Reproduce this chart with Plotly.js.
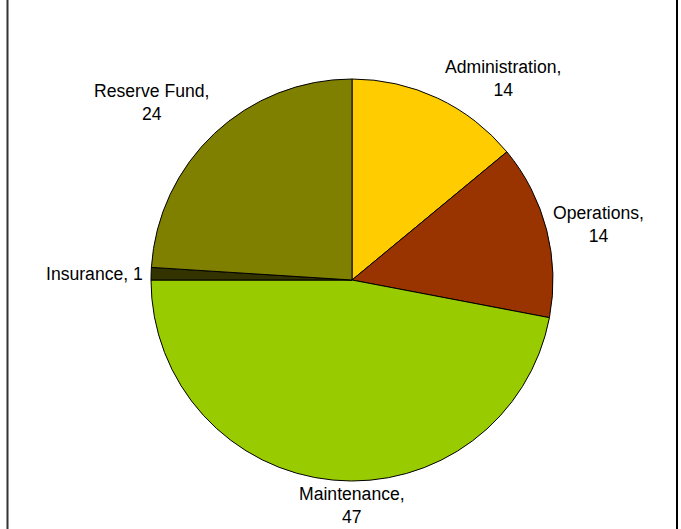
<!DOCTYPE html>
<html>
<head>
<meta charset="utf-8">
<script src="https://cdn.plot.ly/plotly-3.0.1.min.js"></script>
<style>
html,body{margin:0;padding:0;background:#fff;}
#chart{width:681px;height:529px;}
</style>
</head>
<body>
<div id="chart"></div>
<script>
// Data
const categories = ["Administration", "Operations", "Maintenance", "Insurance", "Reserve Fund"];
const values = [14, 14, 47, 1, 24];
const colors = ["#FFCC00", "#993300", "#99CC00", "#333300", "#808000"];

// Label layout (pixel positions of label centers, and line breaks)
const W = 681, H = 529;
const labelPos = [
  {x: 503, y: 79, br: true},
  {x: 598, y: 224, br: true},
  {x: 352, y: 505, br: true},
  {x: 94, y: 274, br: false},
  {x: 151, y: 103, br: true}
];

const cx = 352, cy = 280, r = 201;

const annotations = categories.map((c, i) => ({
  text: c + "," + (labelPos[i].br ? "<br>" : " ") + values[i],
  x: labelPos[i].x / W,
  y: 1 - labelPos[i].y / H,
  xref: "paper", yref: "paper",
  xanchor: "center", yanchor: "middle",
  showarrow: false,
  align: "center",
  font: {family: "Liberation Sans, Arial, sans-serif", size: 17.6, color: "#000"}
}));

const trace = {
  type: "pie",
  labels: categories,
  values: values,
  sort: false,
  direction: "clockwise",
  rotation: 0,
  textinfo: "none",
  hoverinfo: "label+value",
  marker: {colors: colors, line: {color: "#000", width: 1}},
  domain: {
    x: [(cx - r) / W, (cx + r) / W],
    y: [1 - (cy + r) / H, 1 - (cy - r) / H]
  },
  showlegend: false
};

const layout = {
  width: W, height: H,
  margin: {l: 0, r: 0, t: 0, b: 0},
  paper_bgcolor: "#fff",
  showlegend: false,
  annotations: annotations,
  shapes: [
    {type: "line", xref: "paper", yref: "paper", x0: 7.5 / W, x1: 7.5 / W, y0: -0.05, y1: 1.05, line: {color: "#333", width: 2}},
    {type: "line", xref: "paper", yref: "paper", x0: 677 / W, x1: 677 / W, y0: -0.05, y1: 1.05, line: {color: "#000", width: 2}}
  ]
};

Plotly.newPlot("chart", [trace], layout, {displayModeBar: false, staticPlot: true});
</script>
</body>
</html>
